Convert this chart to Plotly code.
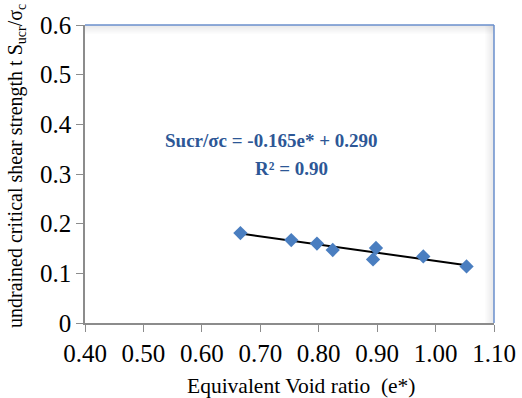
import plotly.graph_objects as go

# Data
void_ratio = [0.666, 0.753, 0.797, 0.824, 0.898, 0.893, 0.979, 1.053]
strength_ratio = [0.181, 0.167, 0.160, 0.147, 0.151, 0.128, 0.134, 0.114]
slope = -0.165
intercept = 0.290
x_ticks = [0.40, 0.50, 0.60, 0.70, 0.80, 0.90, 1.00, 1.10]
x_tick_labels = ["0.40", "0.50", "0.60", "0.70", "0.80", "0.90", "1.00", "1.10"]
y_ticks = [0, 0.1, 0.2, 0.3, 0.4, 0.5, 0.6]
y_tick_labels = ["0", "0.1", "0.2", "0.3", "0.4", "0.5", "0.6"]

x_fit = [min(void_ratio), max(void_ratio)]
y_fit = [slope * v + intercept for v in x_fit]

FONT = "Liberation Serif, Times New Roman, serif"
L, R, T, B = 85, 494, 25, 323
PW, PH = R - L, B - T
fig = go.Figure()

# shadow strips along the top and right inner edges of the plot area
n = 9
for i in range(n):
    op = 0.16 * (1 - i / n)
    fig.add_shape(type="rect", xref="paper", yref="paper",
                  x0=0, x1=1, y0=1 - (i + 1) / PH, y1=1 - i / PH,
                  fillcolor=f"rgba(110,110,120,{op:.3f})", line_width=0, layer="below")
    fig.add_shape(type="rect", xref="paper", yref="paper",
                  x0=1 - (i + 1) / PW, x1=1 - i / PW, y0=0, y1=1,
                  fillcolor=f"rgba(110,110,120,{op:.3f})", line_width=0, layer="below")

# blue border on top and right
fig.add_shape(type="line", xref="paper", yref="paper", x0=0, x1=1, y0=1, y1=1,
              line=dict(color="#6A8FCC", width=1.5))
fig.add_shape(type="line", xref="paper", yref="paper", x0=1, x1=1, y0=0, y1=1,
              line=dict(color="#6A8FCC", width=1.5))

fig.add_trace(go.Scatter(
    x=x_fit, y=y_fit, mode="lines",
    line=dict(color="black", width=2), showlegend=False, hoverinfo="skip"))
fig.add_trace(go.Scatter(
    x=void_ratio, y=strength_ratio, mode="markers",
    marker=dict(symbol="diamond", size=11, color="#4A7EC0"),
    showlegend=False))

fig.add_annotation(xref="paper", yref="paper", x=(163 - L) / PW, y=(B - 140) / PH,
                   xanchor="left", yanchor="middle", showarrow=False,
                   text="<b>Sucr/σc = -0.165e* + 0.290</b>",
                   font=dict(family=FONT, size=19, color="#2D5796"))
fig.add_annotation(xref="paper", yref="paper", x=(291 - L) / PW, y=(B - 168) / PH,
                   xanchor="center", yanchor="middle", showarrow=False,
                   text="<b>R² = 0.90</b>",
                   font=dict(family=FONT, size=19, color="#2D5796"))

# axis titles
fig.add_annotation(xref="paper", yref="paper", x=(301 - L) / PW, y=(B - 386) / PH,
                   xanchor="center", yanchor="middle", showarrow=False,
                   text="Equivalent Void ratio  (e*)",
                   font=dict(family=FONT, size=21.5, color="black"))
fig.add_annotation(xref="paper", yref="paper", x=(16 - L) / PW, y=(B - 166) / PH,
                   xanchor="center", yanchor="middle", showarrow=False, textangle=-90,
                   text="undrained critical shear strength t S<sub>ucr</sub>/σ<sub>c</sub>",
                   font=dict(family=FONT, size=20, color="black"))

fig.update_layout(
    width=522, height=398,
    margin=dict(l=L, r=522 - R, t=T, b=398 - B, autoexpand=False),
    paper_bgcolor="white", plot_bgcolor="white",
    font=dict(family=FONT, size=25, color="black"),
    xaxis=dict(range=[0.40, 1.10], tickvals=x_ticks, ticktext=x_tick_labels,
               automargin=False,
               showgrid=False, zeroline=False, showline=True, linecolor="#8C8C8C",
               linewidth=1.5, ticks="outside", ticklen=7, tickcolor="#8C8C8C",
               tickfont=dict(family=FONT, size=25)),
    yaxis=dict(range=[0, 0.6], tickvals=y_ticks, ticktext=y_tick_labels,
               automargin=False,
               showgrid=False, zeroline=False, showline=True, linecolor="#8C8C8C",
               linewidth=1.5, ticks="outside", ticklen=7, tickcolor="#8C8C8C",
               tickfont=dict(family=FONT, size=25)),
)

fig.write_html("out.html", config={"displayModeBar": False},
               post_script="document.body.style.margin='0';document.body.style.overflow='hidden';")
